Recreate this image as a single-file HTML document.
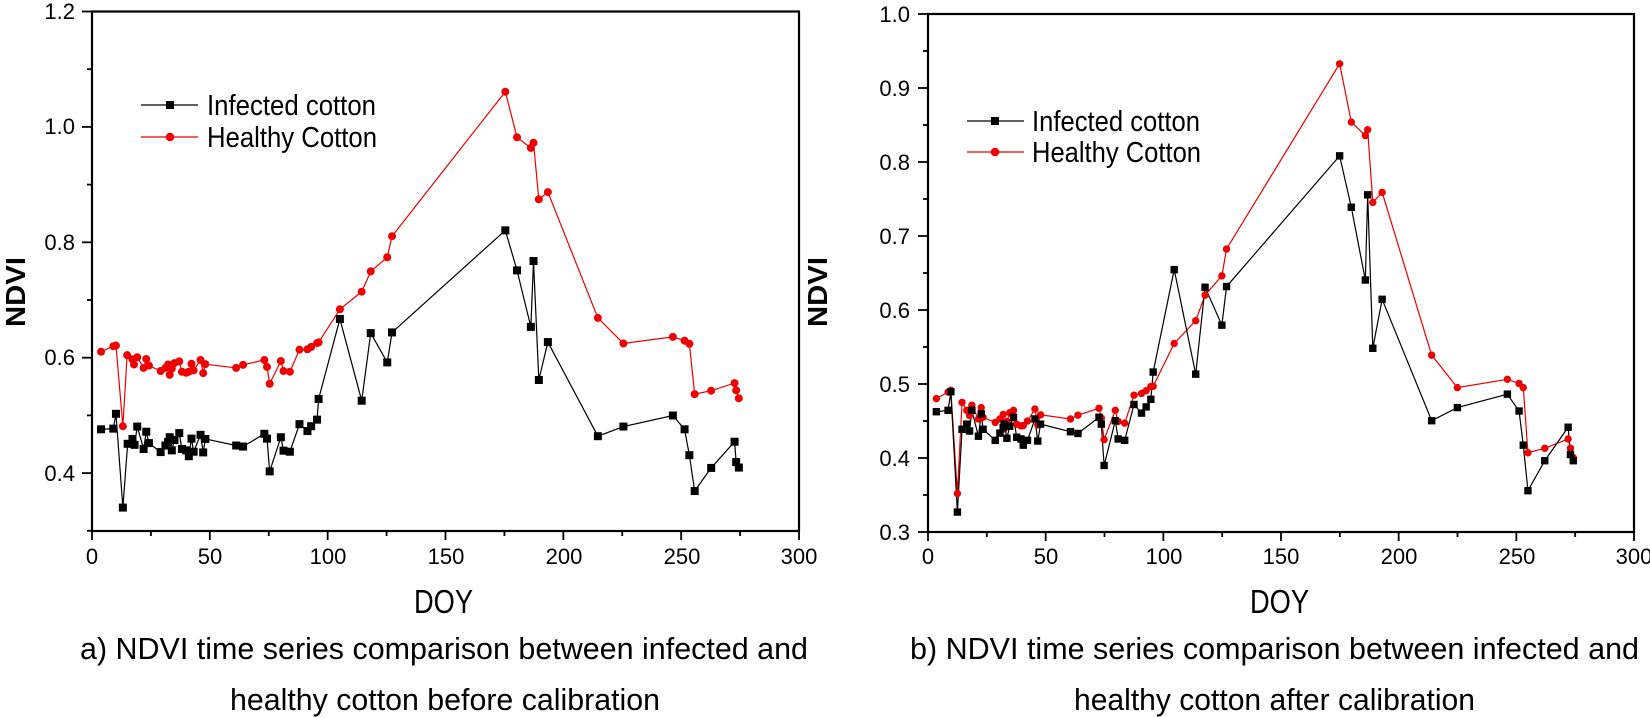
<!DOCTYPE html>
<html><head><meta charset="utf-8"><style>
html,body{margin:0;padding:0;background:#fff;}
svg{display:block;font-family:"Liberation Sans Narrow","Liberation Sans",sans-serif;}
</style></head><body>
<svg id="s" width="1650" height="718" viewBox="0 0 1650 718" xmlns="http://www.w3.org/2000/svg">
<rect width="1650" height="718" fill="#fff"/>
<g id="L"></g><g id="R"></g>
<g font-size="22" text-anchor="end" fill="#000">
<text x="75" y="19">1.2</text><text x="75" y="134">1.0</text><text x="75" y="250">0.8</text><text x="75" y="365">0.6</text><text x="75" y="481">0.4</text>
</g>
<g font-size="22" text-anchor="middle">
<text x="92" y="564">0</text><text x="210" y="564">50</text><text x="328" y="564">100</text><text x="446" y="564">150</text><text x="564" y="564">200</text><text x="682" y="564">250</text><text x="799" y="564">300</text>
</g>
<text x="414" y="613" font-size="33" textLength="59" lengthAdjust="spacingAndGlyphs">DOY</text>
<text x="80" y="659" font-size="31" textLength="728" lengthAdjust="spacingAndGlyphs">a) NDVI time series comparison between infected and</text>
<text x="230" y="710" font-size="31" textLength="430" lengthAdjust="spacingAndGlyphs">healthy cotton before calibration</text>
<text transform="translate(25,292) rotate(-90)" font-family="Liberation Sans,sans-serif" font-weight="bold" font-size="28" text-anchor="middle" textLength="70" lengthAdjust="spacingAndGlyphs">NDVI</text>
<line x1="141" y1="105" x2="198" y2="105" stroke="#000" stroke-width="1.3"/><rect x="166" y="101" width="8" height="8" fill="#000"/>
<line x1="141" y1="137" x2="198" y2="137" stroke="#e00" stroke-width="1.3"/><circle cx="170" cy="137" r="4.3" fill="#e00"/>
<text x="207" y="115" font-size="29" textLength="169" lengthAdjust="spacingAndGlyphs">Infected cotton</text>
<text x="207" y="147" font-size="29" textLength="170" lengthAdjust="spacingAndGlyphs">Healthy Cotton</text>
<g font-size="22" text-anchor="end">
<text x="910" y="22">1.0</text><text x="910" y="96">0.9</text><text x="910" y="170">0.8</text><text x="910" y="244">0.7</text><text x="910" y="318">0.6</text><text x="910" y="392">0.5</text><text x="910" y="466">0.4</text><text x="910" y="540">0.3</text>
</g>
<g font-size="22" text-anchor="middle">
<text x="928" y="564">0</text><text x="1046" y="564">50</text><text x="1164" y="564">100</text><text x="1281" y="564">150</text><text x="1399" y="564">200</text><text x="1517" y="564">250</text><text x="1634" y="564">300</text>
</g>
<text x="1250" y="613" font-size="33" textLength="59" lengthAdjust="spacingAndGlyphs">DOY</text>
<text x="910" y="659" font-size="31" textLength="729" lengthAdjust="spacingAndGlyphs">b) NDVI time series comparison between infected and</text>
<text x="1074" y="710" font-size="31" textLength="401" lengthAdjust="spacingAndGlyphs">healthy cotton after calibration</text>
<text transform="translate(827,292) rotate(-90)" font-family="Liberation Sans,sans-serif" font-weight="bold" font-size="28" text-anchor="middle" textLength="70" lengthAdjust="spacingAndGlyphs">NDVI</text>
<line x1="967" y1="121" x2="1024" y2="121" stroke="#000" stroke-width="1.3"/><rect x="991" y="117" width="8" height="8" fill="#000"/>
<line x1="967" y1="152" x2="1024" y2="152" stroke="#e00" stroke-width="1.3"/><circle cx="995" cy="152" r="4.3" fill="#e00"/>
<text x="1032" y="131" font-size="29" textLength="168" lengthAdjust="spacingAndGlyphs">Infected cotton</text>
<text x="1032" y="162" font-size="29" textLength="169" lengthAdjust="spacingAndGlyphs">Healthy Cotton</text>
</svg>
<script>
var NS="http://www.w3.org/2000/svg";
function el(g,t,a){var e=document.createElementNS(NS,t);for(var k in a)e.setAttribute(k,a[k]);g.appendChild(e);return e;}
function plot(gid,ox,sx,sy,blk,red,box,yt,r){
 var g=document.getElementById(gid);
 el(g,"rect",{x:box[0],y:box[1],width:box[2]-box[0],height:box[3]-box[1],fill:"none",stroke:"#000","stroke-width":2.2});
 for(var i=0;i<=12;i++){var x=box[0]+(box[2]-box[0])*i/12;el(g,"line",{x1:x,y1:box[3],x2:x,y2:box[3]+(i%2?5:9),stroke:"#000","stroke-width":1.8});}
 for(var j=0;j<yt.length;j++){el(g,"line",{x1:box[0],y1:yt[j][0],x2:box[0]-yt[j][1],y2:yt[j][0],stroke:"#000","stroke-width":1.8});}
 function pts(a){return a.map(function(p){return [ox+p[0]/sx,p[1]/sy];});}
 var b=pts(blk),rr=pts(red);
 el(g,"polyline",{points:rr.map(function(p){return p.join(",")}).join(" "),fill:"none",stroke:"#e00","stroke-width":1.2});
 el(g,"polyline",{points:b.map(function(p){return p.join(",")}).join(" "),fill:"none",stroke:"#000","stroke-width":1.2});
 rr.forEach(function(p){el(g,"circle",{cx:p[0],cy:p[1],r:r,fill:"#e00"});});
 b.forEach(function(p){el(g,"rect",{x:p[0]-r,y:p[1]-r,width:2*r,height:2*r,fill:"#000"});});
}
var LB=[[190,1245],[213,1243],[218,1200],[231,1472],[240,1287],[249,1273],[253,1290],[258,1237],[270,1302],[275,1252],[280,1285],[302,1311],[311,1292],[316,1282],[319,1268],[323,1306],[328,1276],[337,1256],[342,1302],[350,1306],[355,1323],[360,1272],[364,1310],[377,1261],[382,1312],[386,1273],[444,1292],[457,1295],[497,1258],[502,1272],[507,1367],[528,1268],[533,1307],[545,1310],[563,1230],[578,1250],[585,1236],[596,1217],[599,1157],[639,925],[680,1162],[697,966],[728,1051],[737,964],[950,668],[972,784],[998,948],[1003,757],[1013,1102],[1030,992],[1124,1265],[1172,1237],[1265,1205],[1287,1245],[1296,1320],[1306,1424],[1337,1357],[1381,1281],[1384,1340],[1389,1356]];
var LR=[[190,1020],[213,1004],[218,1002],[231,1236],[239,1030],[249,1042],[252,1057],[258,1036],[270,1067],[275,1041],[280,1060],[302,1076],[311,1067],[316,1057],[319,1087],[323,1069],[328,1053],[337,1048],[342,1078],[350,1081],[355,1078],[360,1055],[364,1074],[377,1044],[382,1082],[386,1056],[444,1067],[457,1058],[497,1044],[502,1064],[507,1113],[528,1047],[533,1076],[545,1078],[563,1014],[578,1013],[585,1006],[596,995],[599,993],[639,897],[680,846],[697,787],[728,746],[737,685],[950,266],[972,398],[998,429],[1003,414],[1013,578],[1030,557],[1124,922],[1172,996],[1265,977],[1287,988],[1296,997],[1306,1143],[1337,1133],[1381,1111],[1384,1132],[1389,1155]];
var RB=[[35,1194],[60,1190],[66,1136],[80,1485],[90,1245],[100,1230],[106,1250],[111,1190],[125,1265],[131,1200],[135,1245],[161,1277],[171,1256],[178,1240],[180,1230],[186,1271],[192,1236],[200,1210],[207,1268],[216,1273],[221,1291],[230,1277],[246,1215],[252,1279],[258,1230],[322,1252],[338,1257],[383,1210],[388,1230],[394,1350],[418,1220],[424,1273],[438,1277],[458,1173],[474,1198],[484,1180],[494,1158],[499,1079],[544,782],[590,1085],[610,833],[646,943],[656,831],[898,452],[923,601],[953,812],[958,565],[969,1010],[989,868],[1095,1220],[1150,1182],[1257,1143],[1282,1192],[1291,1291],[1301,1423],[1337,1336],[1387,1239],[1392,1318],[1398,1336]];
var RR=[[35,1156],[60,1137],[66,1132],[80,1431],[90,1167],[100,1190],[106,1205],[111,1175],[125,1215],[131,1182],[135,1210],[161,1225],[171,1215],[178,1202],[180,1244],[186,1222],[192,1197],[200,1190],[207,1230],[216,1235],[221,1234],[230,1221],[246,1186],[252,1232],[258,1203],[322,1215],[338,1204],[383,1184],[388,1212],[394,1275],[418,1190],[424,1222],[438,1227],[458,1146],[474,1141],[484,1133],[494,1121],[499,1120],[544,996],[590,930],[610,856],[646,800],[656,722],[898,185],[923,354],[953,393],[958,376],[969,587],[989,558],[1095,1030],[1150,1124],[1257,1100],[1282,1112],[1291,1124],[1301,1313],[1337,1300],[1387,1273],[1392,1300],[1398,1327]];
var ytL=[];for(var k=0;k<=9;k++){ytL.push([11.5+k*57.7,(k%2?5:10)]);}
var ytR=[];for(var k=0;k<=14;k++){ytR.push([14+k*37,(k%2?5:10)]);}
plot("L",0,1.88,2.9,LB,LR,[92,11.5,799,531],ytL,4);
plot("R",920,2.14,2.9,RB,RR,[928,14,1634,532],ytR,3.7);
</script>
</body></html>
